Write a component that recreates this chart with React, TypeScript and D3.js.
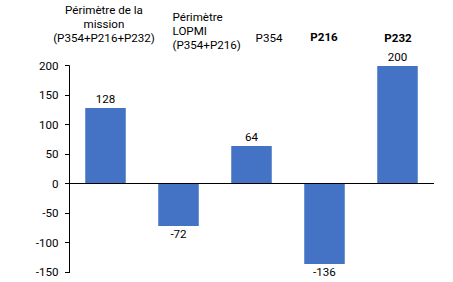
import React from "react";
import * as d3 from "d3";

const categories = ["mission", "lopmi", "P354", "P216", "P232"];
const labelLines: string[][] = [
  ["Périmètre de la", "mission", "(P354+P216+P232)"],
  ["Périmètre", "LOPMI", "(P354+P216)"],
  ["P354"],
  ["P216"],
  ["P232"],
];
const labelBold = [false, false, false, true, true];
const values = [128, -72, 64, -136, 200];
const yTicks = [-150, -100, -50, 0, 50, 100, 150, 200];

const W = 453;
const H = 282;
const FONT = "Roboto, 'Liberation Sans', sans-serif";
const FS = 11.6;

// layout of the header labels (anchor, x offset from band centre, first baseline)
const labelLayout: { anchor: "middle" | "start"; dx: number; y: number }[] = [
  { anchor: "middle", dx: -1.5, y: 14 },
  { anchor: "start", dx: -6, y: 20.7 },
  { anchor: "middle", dx: 17.5, y: 42.3 },
  { anchor: "middle", dx: -0.5, y: 41.2 },
  { anchor: "middle", dx: 0.5, y: 41.5 },
];

export default function App() {
  const x = d3
    .scaleBand<string>()
    .domain(categories)
    .range([69, 434])
    .paddingInner(0.445)
    .paddingOuter(0.2225);
  const y = d3.scaleLinear().domain([-150, 200]).range([272.3, 65.5]);
  const crisp = (v: number) => Math.floor(v) + 0.5;
  const y0 = crisp(y(0));
  const axisX = 69.5;

  return (
    <svg
      width={W}
      height={H}
      style={{ position: "absolute", left: 0, top: 0, background: "#fff" }}
      fontFamily={FONT}
      fontSize={FS}
    >
      <rect width={W} height={H} fill="#fff" />
      {/* bars */}
      {categories.map((c, i) => {
        const v = values[i];
        const top = Math.round(y(Math.max(0, v)));
        const bot = Math.round(y(Math.min(0, v)));
        const bx = x(c)!;
        return (
          <rect
            key={c}
            x={bx}
            y={v >= 0 ? top : y0}
            width={x.bandwidth()}
            height={v >= 0 ? y0 - top : bot - y0}
            fill="#4472C4"
          />
        );
      })}
      {/* value labels */}
      {categories.map((c, i) => {
        const v = values[i];
        const cx = x(c)! + x.bandwidth() / 2;
        const ty = v >= 0 ? y(v) - 5 : y(v) + 12;
        return (
          <text key={c} x={cx} y={ty} textAnchor="middle" fill="#000">
            {v}
          </text>
        );
      })}
      {/* y axis */}
      <line x1={axisX} x2={axisX} y1={crisp(y(200))} y2={crisp(y(-150)) + 0.5} stroke="#000" strokeWidth={1} />
      {yTicks.map((t) => (
        <g key={t}>
          <line x1={65} x2={axisX} y1={crisp(y(t))} y2={crisp(y(t))} stroke="#000" strokeWidth={1} />
          <text x={58.5} y={y(t)} dy="0.35em" textAnchor="end" fill="#000">
            {t}
          </text>
        </g>
      ))}
      {/* zero line */}
      <line x1={axisX} x2={434} y1={y0} y2={y0} stroke="#000" strokeWidth={1} />
      {/* header labels */}
      {categories.map((c, i) => {
        const L = labelLayout[i];
        const cx = x(c)! + x.bandwidth() / 2 + L.dx;
        return (
          <text
            key={c}
            x={cx}
            y={L.y}
            textAnchor={L.anchor}
            fontWeight={labelBold[i] ? "bold" : "normal"}
            fill="#000"
          >
            {labelLines[i].map((line, j) => (
              <tspan key={j} x={cx} dy={j === 0 ? 0 : 14.2}>
                {line}
              </tspan>
            ))}
          </text>
        );
      })}
    </svg>
  );
}
